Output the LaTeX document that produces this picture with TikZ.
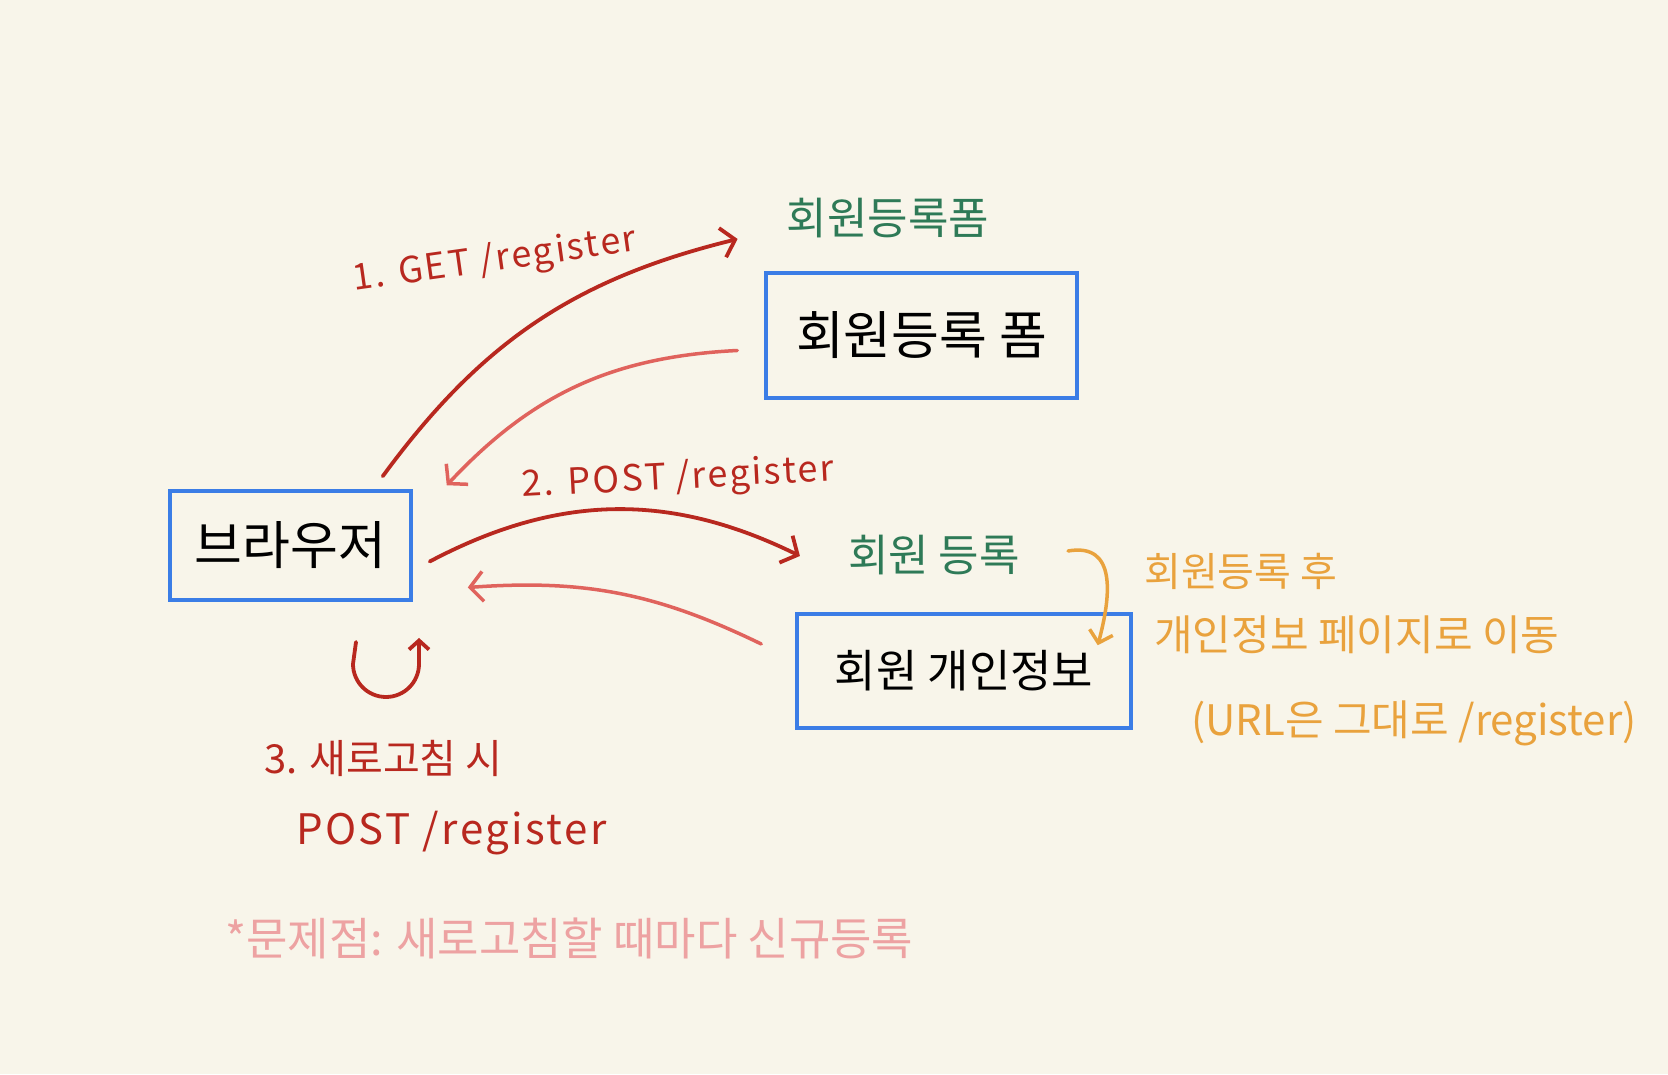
\documentclass[tikz,border=0pt]{standalone}
\usepackage{fontspec}
\setmainfont{Noto Sans CJK KR}
\usetikzlibrary{arrows.meta, calc}

\definecolor{paper}{HTML}{F8F5EA}
\definecolor{boxblue}{HTML}{3B7DE6}
\definecolor{darkred}{HTML}{B8281F}
\definecolor{lightred}{HTML}{E0635D}
\definecolor{labelgreen}{HTML}{2E7A57}
\definecolor{noteorange}{HTML}{E9A23D}
\definecolor{notepink}{HTML}{EDA2A2}

\begin{document}
\begin{tikzpicture}[x=1pt, y=1pt,
  box/.style={draw=boxblue, line width=3.5pt, inner sep=0pt,
    font=\fontsize{52}{56}\selectfont},
  req/.style={darkred, line width=3.8pt, line cap=round,
    -{Straight Barb[length=13pt, width=30pt]}},
  resp/.style={lightred, line width=3.5pt, line cap=round,
    -{Straight Barb[length=13pt, width=30pt]}},
  reqlabel/.style={darkred, inner sep=0pt,
    font=\fontsize{36}{40}\selectfont\addfontfeature{LetterSpace=6}},
  pagelabel/.style={labelgreen, inner sep=0pt, font=\fontsize{44}{48}\selectfont},
  note/.style={noteorange, inner sep=0pt, anchor=west, font=\fontsize{42}{46}\selectfont}]
  \useasboundingbox[fill=paper] (0,0) rectangle (1668,1074);
  % boxes
  \node[box, minimum width=241pt, minimum height=109pt] (browser) at (290.5,528.5) {브라우저};
  \node[box, minimum width=311pt, minimum height=125pt] (form) at (921.5,738.5) {회원등록 폼};
  \node[box, minimum width=334pt, minimum height=114pt,
    font=\fontsize{45}{49}\selectfont] (info) at (964,403) {회원 개인정보};
  % labels
  \node[reqlabel, rotate=8] (getlbl) at (495,813) {1. GET /register};
  \node[pagelabel] (formlbl) at (888,856) {회원등록폼};
  \node[reqlabel, rotate=3] (postlbl) at (678,595) {2. POST /register};
  \node[pagelabel] (reglbl) at (934,519) {회원 등록};
  % step 1
  \draw[req] ($(browser.north east)+(-30,13)$) to[bend left=20] ($(formlbl.west)+(-49,-21)$);
  \draw[resp] ($(form.west)+(-27,-15)$) to[bend right=22] ($(browser.north east)+(34,4)$);
  % step 2
  \draw[req] ($(browser.east)+(17,-16)$) to[bend left=27] ($(reglbl.west)+(-48,-1)$);
  \draw[resp] ($(info.west)+(-34,27)$) to[bend right=15] ($(browser.east)+(55,-42)$);
  % redirect
  \draw[noteorange, line width=3.5pt, line cap=round,
    -{Straight Barb[length=11pt, width=24pt]}]
    ($(reglbl.east)+(48,4)$) to[out=10, in=75, looseness=1.3] ($(info.north east)+(-35,-33)$);
  \node[note, font=\fontsize{40}{44}\selectfont] (note1) at (1144,503) {회원등록 후};
  \node[note] (note2) at (1154,439) {개인정보 페이지로 이동};
  \node[note] (note3) at (1191,351) {(URL은 그대로 /register)};
  % step 3: refresh
  \coordinate (loopc) at (386,410);
  \draw[darkred, line width=3.8pt, line cap=round,
    -{Straight Barb[length=9pt, width=20pt]}]
    ($(loopc)+(-30,22)$) -- ($(loopc)+(-33,0)$)
    arc[start angle=180, end angle=360, radius=33] -- ($(loopc)+(33,26)$);
  \node[reqlabel, anchor=west, font=\fontsize{40}{44}\selectfont] (step3) at (264,316) {3. 새로고침 시};
  \node[reqlabel, anchor=west, font=\fontsize{42}{46}\selectfont\addfontfeature{LetterSpace=6}]
    (step3b) at (296,241) {POST /register};
  \node[notepink, inner sep=0pt, anchor=west, font=\fontsize{45}{49}\selectfont]
    (problem) at (225,136) {*문제점: 새로고침할 때마다 신규등록};
\end{tikzpicture}
\end{document}
